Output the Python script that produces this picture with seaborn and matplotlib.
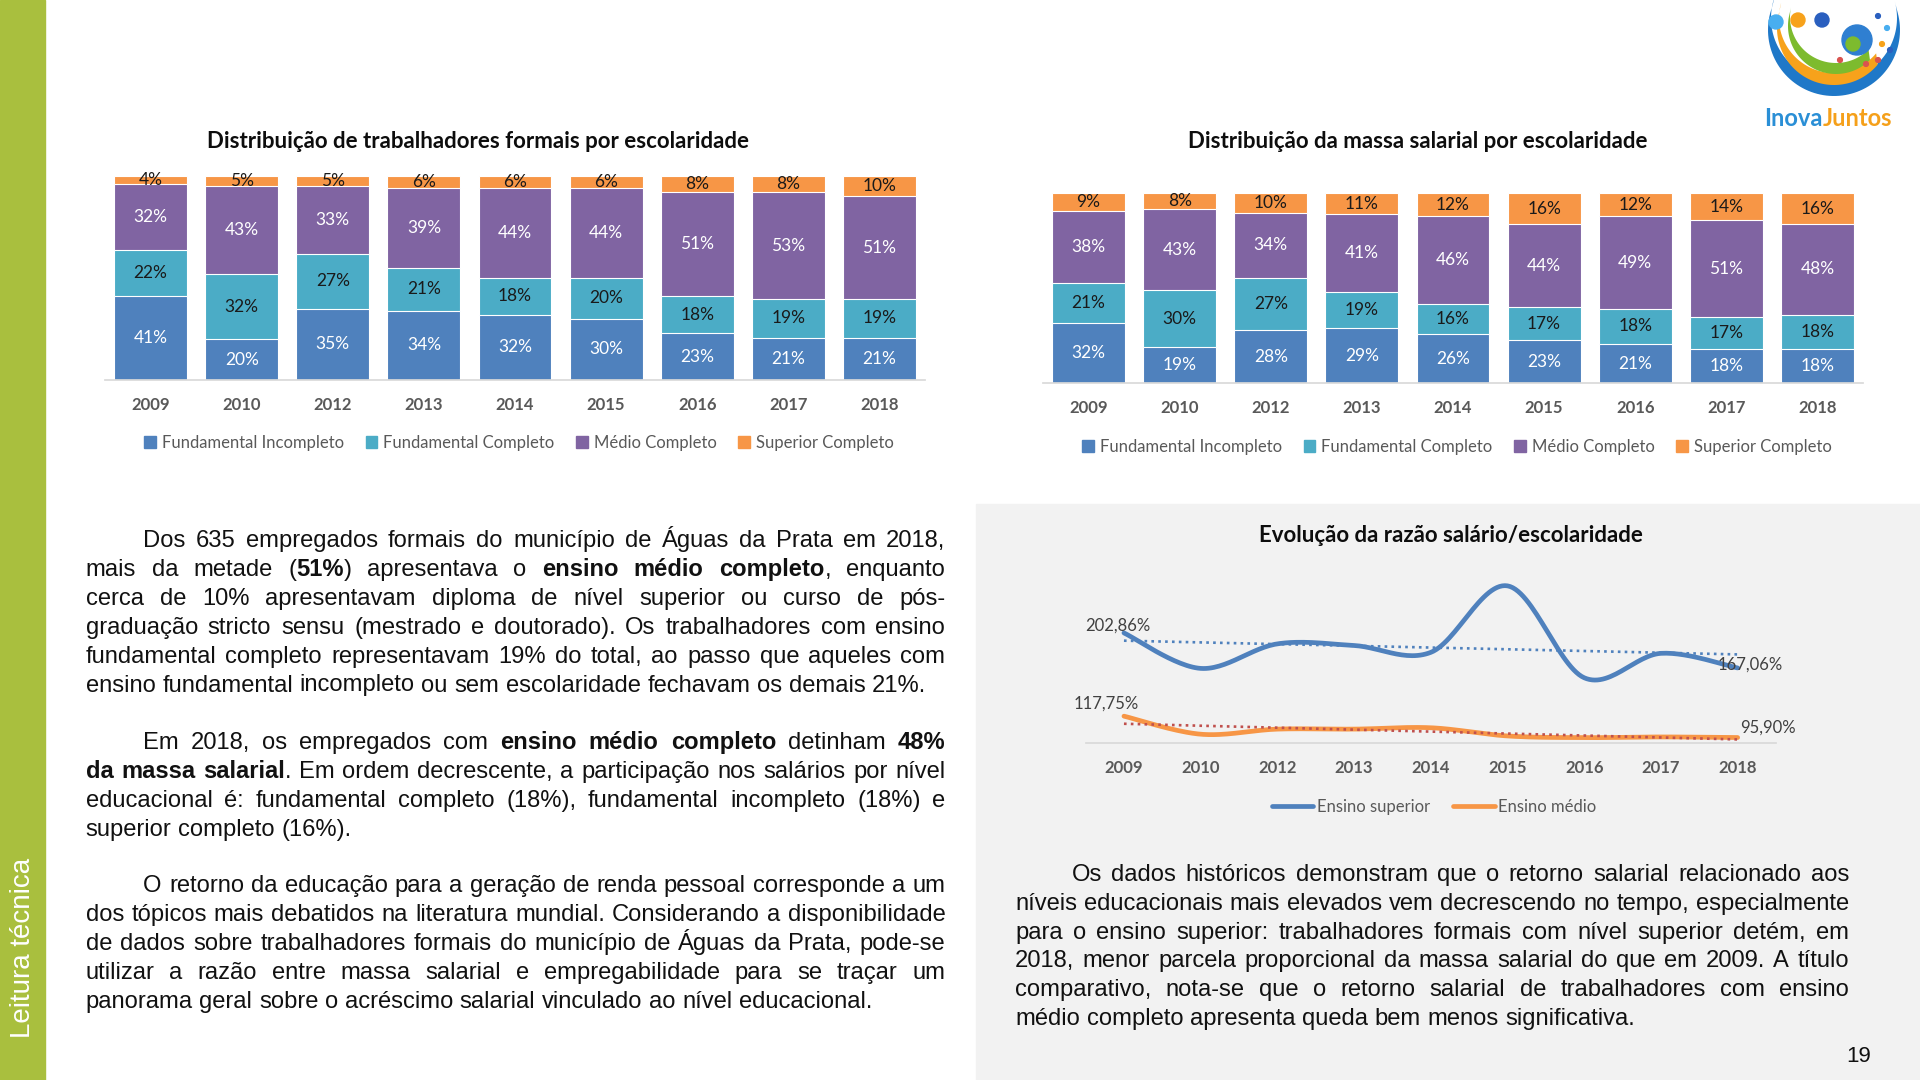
import numpy as np
import pandas as pd
import seaborn as sns
import matplotlib.pyplot as plt
from matplotlib.patches import Patch, Rectangle, Circle, Polygon
from matplotlib.lines import Line2D

anos = ['2009', '2010', '2012', '2013', '2014', '2015', '2016', '2017', '2018']
niveis = ['Fundamental Incompleto', 'Fundamental Completo', 'Médio Completo', 'Superior Completo']

trab_fund_inc = [41, 20, 35, 34, 32, 30, 23, 21, 21]
trab_fund_comp = [22, 32, 27, 21, 18, 20, 18, 19, 19]
trab_medio = [32, 43, 33, 39, 44, 44, 51, 53, 51]
trab_sup = [4, 5, 5, 6, 6, 6, 8, 8, 10]

massa_fund_inc = [32, 19, 28, 29, 26, 23, 21, 18, 18]
massa_fund_comp = [21, 30, 27, 19, 16, 17, 18, 17, 18]
massa_medio = [38, 43, 34, 41, 46, 44, 49, 51, 48]
massa_sup = [9, 8, 10, 11, 12, 16, 12, 14, 16]

razao_superior = [202.86, 166.6, 191.7, 190.0, 183.0, 251.0, 157.0, 182.0, 167.06]
razao_medio = [117.75, 99.3, 104.5, 104.5, 105.9, 97.5, 95.8, 96.5, 95.90]
rotulos_sup = ['202,86%', '167,06%']
rotulos_med = ['117,75%', '95,90%']

cores = {'Fundamental Incompleto': '#4F81BD', 'Fundamental Completo': '#4BACC6',
         'Médio Completo': '#8064A2', 'Superior Completo': '#F79646'}
cor_rotulo = {'Fundamental Incompleto': 'white', 'Fundamental Completo': '#1a1a1a',
              'Médio Completo': 'white', 'Superior Completo': '#1a1a1a'}

p1 = ["Dos 635 empregados formais do município de Águas da Prata em 2018,",
      "mais da metade (**51%**) apresentava o **ensino médio completo**, enquanto",
      "cerca de 10% apresentavam diploma de nível superior ou curso de pós-",
      "graduação stricto sensu (mestrado e doutorado). Os trabalhadores com ensino",
      "fundamental completo representavam 19% do total, ao passo que aqueles com",
      "ensino fundamental incompleto ou sem escolaridade fechavam os demais 21%."]
p2 = ["Em 2018, os empregados com **ensino médio completo** detinham **48%**",
      "**da massa salarial**. Em ordem decrescente, a participação nos salários por nível",
      "educacional é: fundamental completo (18%), fundamental incompleto (18%) e",
      "superior completo (16%)."]
p3 = ["O retorno da educação para a geração de renda pessoal corresponde a um",
      "dos tópicos mais debatidos na literatura mundial. Considerando a disponibilidade",
      "de dados sobre trabalhadores formais do município de Águas da Prata, pode-se",
      "utilizar a razão entre massa salarial e empregabilidade para se traçar um",
      "panorama geral sobre o acréscimo salarial vinculado ao nível educacional."]
p4 = ["Os dados históricos demonstram que o retorno salarial relacionado aos",
      "níveis educacionais mais elevados vem decrescendo no tempo, especialmente",
      "para o ensino superior: trabalhadores formais com nível superior detém, em",
      "2018, menor parcela proporcional da massa salarial do que em 2009. A título",
      "comparativo, nota-se que o retorno salarial de trabalhadores com ensino",
      "médio completo apresenta queda bem menos significativa."]

sns.set_theme(style='white')
plt.rcParams['font.family'] = ['Lato', 'DejaVu Sans']
FONTE_TEXTO = ['Liberation Sans Narrow', 'Liberation Sans', 'DejaVu Sans']
CINZA = '#595959'

W, H = 1920, 1080
fig = plt.figure(figsize=(19.2, 10.8), dpi=100)
fig.patch.set_facecolor('white')


def fx(x):
    return x / W


def fy(y):
    return 1 - y / H


def eixo(l, t, r, b):
    return fig.add_axes([l / W, 1 - b / H, (r - l) / W, (b - t) / H])


# fundos
fig.add_artist(Rectangle((0, 0), fx(45), 1, transform=fig.transFigure, color='#a9bf3e', zorder=0))
fig.add_artist(Rectangle((fx(976), 0), 1 - fx(976), fy(504), transform=fig.transFigure,
                         color='#f2f2f2', zorder=0))
fig.text(fx(23), fy(948), 'Leitura técnica', rotation=90, ha='center', va='center',
         color='white', fontsize=20, family=['Liberation Sans', 'DejaVu Sans'])
fig.text(fx(1859), fy(1056), '19', ha='center', va='center', fontsize=16,
         family=['Liberation Sans', 'DejaVu Sans'], color='#111111')


def barras(ax, series, titulo, tx, ty, lx, ly):
    df = pd.DataFrame(dict(zip(niveis, series)), index=anos)
    pct = df.div(df.sum(axis=1), axis=0) * 100
    acum = pct.cumsum(axis=1)
    for nivel in reversed(niveis):
        sns.barplot(x=anos, y=acum[nivel].values, color=cores[nivel], saturation=1,
                    width=0.8, edgecolor='white', linewidth=0.8, ax=ax)
    for i, ano in enumerate(anos):
        for nivel in niveis:
            meio = acum.loc[ano, nivel] - pct.loc[ano, nivel] / 2
            ax.text(i, meio, f'{df.loc[ano, nivel]}%', ha='center', va='center',
                    fontsize=12.5, color=cor_rotulo[nivel])
    ax.set_xlim(-0.5, 8.5)
    ax.set_ylim(0, 100)
    ax.set_yticks([])
    ax.set_xlabel('')
    ax.set_ylabel('')
    ax.set_facecolor('none')
    sns.despine(ax=ax, left=True)
    ax.spines['bottom'].set_color('#d9d9d9')
    ax.tick_params(axis='x', length=0, pad=12, labelsize=12, labelcolor=CINZA)
    for t in ax.get_xticklabels():
        t.set_fontweight('bold')
    fig.text(fx(tx), fy(ty), titulo, ha='center', va='center', fontsize=16,
             fontweight='bold', color='#0d0d0d')
    alcas = [Patch(color=cores[n]) for n in niveis]
    fig.legend(alcas, niveis, loc='center', bbox_to_anchor=(fx(lx), fy(ly)), ncol=4,
               frameon=False, fontsize=12, handlelength=0.7, handleheight=0.7,
               handletextpad=0.35, columnspacing=1.3, labelcolor=CINZA)


ax1 = eixo(105, 176, 925, 380)
barras(ax1, [trab_fund_inc, trab_fund_comp, trab_medio, trab_sup],
       'Distribuição de trabalhadores formais por escolaridade', 478, 141, 519, 443)

ax2 = eixo(1043, 193.5, 1863, 383.5)
barras(ax2, [massa_fund_inc, massa_fund_comp, massa_medio, massa_sup],
       'Distribuição da massa salarial por escolaridade', 1418, 141, 1457, 447)


def suave(y, n=30):
    # curva suavizada como no Excel (Bezier entre pontos)
    y = np.asarray(y, float)
    x = np.arange(len(y), dtype=float)
    xp = np.concatenate([[x[0]], x, [x[-1]]])
    yp = np.concatenate([[y[0]], y, [y[-1]]])
    t = np.linspace(0, 1, n)[:, None]
    pts = []
    for i in range(len(y) - 1):
        p0 = np.array([xp[i], yp[i]])
        a = np.array([xp[i + 1], yp[i + 1]])
        b = np.array([xp[i + 2], yp[i + 2]])
        p3 = np.array([xp[i + 3], yp[i + 3]])
        c1 = a + (b - p0) / 6
        c2 = b - (p3 - a) / 6
        seg = (1 - t) ** 3 * a + 3 * (1 - t) ** 2 * t * c1 + 3 * (1 - t) * t ** 2 * c2 + t ** 3 * b
        pts.append(seg)
    pts = np.vstack(pts)
    return pts[:, 0], pts[:, 1]


ax3 = eixo(1085.6, 557.5, 1776, 743.3)
ax3.set_facecolor('none')
xi = np.arange(len(anos))
for vals, cor, cor_tend in [(razao_superior, '#4F81BD', '#4F81BD'), (razao_medio, '#F79646', '#C0504D')]:
    xs, ys = suave(vals)
    ax3.plot(xs, ys, color=cor, lw=3.4, solid_capstyle='round', zorder=2)
    sns.regplot(x=xi, y=np.array(vals), scatter=False, ci=None, ax=ax3,
                line_kws=dict(color=cor_tend, ls=(0, (1, 1.6)), lw=1.9, zorder=3))
ax3.set_xlim(-0.5, 8.5)
ax3.set_ylim(90, 280)
ax3.set_yticks([])
ax3.set_xticks(xi)
ax3.set_xticklabels(anos)
ax3.set_xlabel('')
ax3.set_ylabel('')
sns.despine(ax=ax3, left=True)
ax3.spines['bottom'].set_color('#d9d9d9')
ax3.tick_params(axis='x', length=0, pad=12, labelsize=12, labelcolor=CINZA)
for t in ax3.get_xticklabels():
    t.set_fontweight('bold')
rot_kw = dict(textcoords='offset pixels', ha='center', va='center', fontsize=12, color='#404040')
ax3.annotate(rotulos_sup[0], (0, razao_superior[0]), xytext=(-6, 7), **rot_kw)
ax3.annotate(rotulos_sup[1], (8, razao_superior[-1]), xytext=(13, 3), **rot_kw)
ax3.annotate(rotulos_med[0], (0, razao_medio[0]), xytext=(-18, 13), **rot_kw)
ax3.annotate(rotulos_med[1], (8, razao_medio[-1]), xytext=(30, 10), **rot_kw)
fig.text(fx(1451), fy(536), 'Evolução da razão salário/escolaridade', ha='center', va='center',
         fontsize=16, fontweight='bold', color='#0d0d0d')
alcas3 = [Line2D([], [], color='#4F81BD', lw=3.4), Line2D([], [], color='#F79646', lw=3.4)]
fig.legend(alcas3, ['Ensino superior', 'Ensino médio'], loc='center',
           bbox_to_anchor=(fx(1434), fy(807)), ncol=2, frameon=False, fontsize=12,
           handlelength=2.5, handletextpad=0.2, columnspacing=1.4, labelcolor=CINZA)

# logo (desenho simplificado)
axl = fig.add_axes([fx(1750), fy(110), 160 / W, 110 / H])
axl.set_xlim(1750, 1910)
axl.set_ylim(110, 0)
axl.axis('off')


def crescente(cx, cy, r_ext, r_int, dy, th1, th2, cor):
    th = np.radians(np.linspace(th1, th2, 80))
    ext = np.c_[cx + r_ext * np.cos(th), cy + r_ext * np.sin(th)]
    inn = np.c_[cx + r_int * np.cos(th[::-1]), cy - dy + r_int * np.sin(th[::-1])]
    axl.add_patch(Polygon(np.vstack([ext, inn]), closed=True, color=cor, lw=0))


crescente(1834, 30, 66, 63, 12, -15, 200, '#1f78c8')
crescente(1834, 28, 57, 55, 10, 40, 196, '#f7a21b')
crescente(1836, 26, 48, 46, 9, 45, 192, '#7dbb2e')
for cx, cy, c in [(1776, 22, '#48aef0'), (1798, 20, '#f7a21b'), (1822, 20, '#2a5fbf')]:
    axl.add_patch(Circle((cx, cy), 7, color=c))
axl.add_patch(Circle((1857, 40), 15, color='#2f7fd1'))
axl.add_patch(Circle((1853, 44), 7, color='#7dbb2e'))
for cx, cy, c in [(1878, 16, '#2a5fbf'), (1887, 28, '#48aef0'), (1882, 44, '#f7a21b'),
                  (1866, 64, '#d9534f'), (1850, 68, '#7dbb2e'), (1878, 60, '#d9534f'),
                  (1890, 50, '#2a5fbf'), (1840, 60, '#d9534f')]:
    axl.add_patch(Circle((cx, cy), 2.4, color=c))
fig.text(fx(1823), fy(118), 'Inova', ha='right', va='center', fontsize=17,
         fontweight='bold', color='#2a8fd6')
fig.text(fx(1823), fy(118), 'Juntos', ha='left', va='center', fontsize=17,
         fontweight='bold', color='#f5a01a')

# paragrafos justificados
fig.canvas.draw()
rend = fig.canvas.get_renderer()


def largura(txt, negrito, tam):
    t = fig.text(0, 0, txt, fontsize=tam, family=FONTE_TEXTO,
                 fontweight='bold' if negrito else 'normal')
    w = t.get_window_extent(rend).width
    t.remove()
    return w


def separar(linha):
    palavras = []
    negrito = False
    for w in linha.split(' '):
        runs = []
        for j, p in enumerate(w.split('**')):
            if j > 0:
                negrito = not negrito
            if p:
                runs.append((p, negrito))
        palavras.append(runs)
    return palavras


def natural(linha, tam):
    pal = separar(linha)
    esp = largura('a a', False, tam) - largura('aa', False, tam)
    return sum(largura(t, b, tam) for p in pal for t, b in p) + esp * (len(pal) - 1)


tam = 10 * 843.7 / natural(p1[-1], 10)


def paragrafo(linhas, x0, x1, y0, recuo, passo=28.9):
    esp = largura('a a', False, tam) - largura('aa', False, tam)
    for k, linha in enumerate(linhas):
        pal = separar(linha)
        larg = [[largura(t, b, tam) for t, b in p] for p in pal]
        tot = sum(sum(l) for l in larg)
        ini = x0 + (recuo if k == 0 else 0)
        if k < len(linhas) - 1 and len(pal) > 1:
            gap = (x1 - ini - tot) / (len(pal) - 1)
        else:
            gap = esp
        x = ini
        yb = y0 + k * passo + 7
        for p, l in zip(pal, larg):
            for (t, b), w in zip(p, l):
                fig.text(fx(x), fy(yb), t, fontsize=tam, family=FONTE_TEXTO,
                         fontweight='bold' if b else 'normal', color='#111111',
                         ha='left', va='baseline')
                x += w
            x += gap


paragrafo(p1, 85.7, 945.3, 540, 57.6)
paragrafo(p2, 85.7, 945.3, 742, 57.6)
paragrafo(p3, 85.7, 945.3, 885.3, 57.6)
paragrafo(p4, 1015, 1849, 874.3, 56.5, passo=28.7)

fig.savefig('out.png', dpi=100)
